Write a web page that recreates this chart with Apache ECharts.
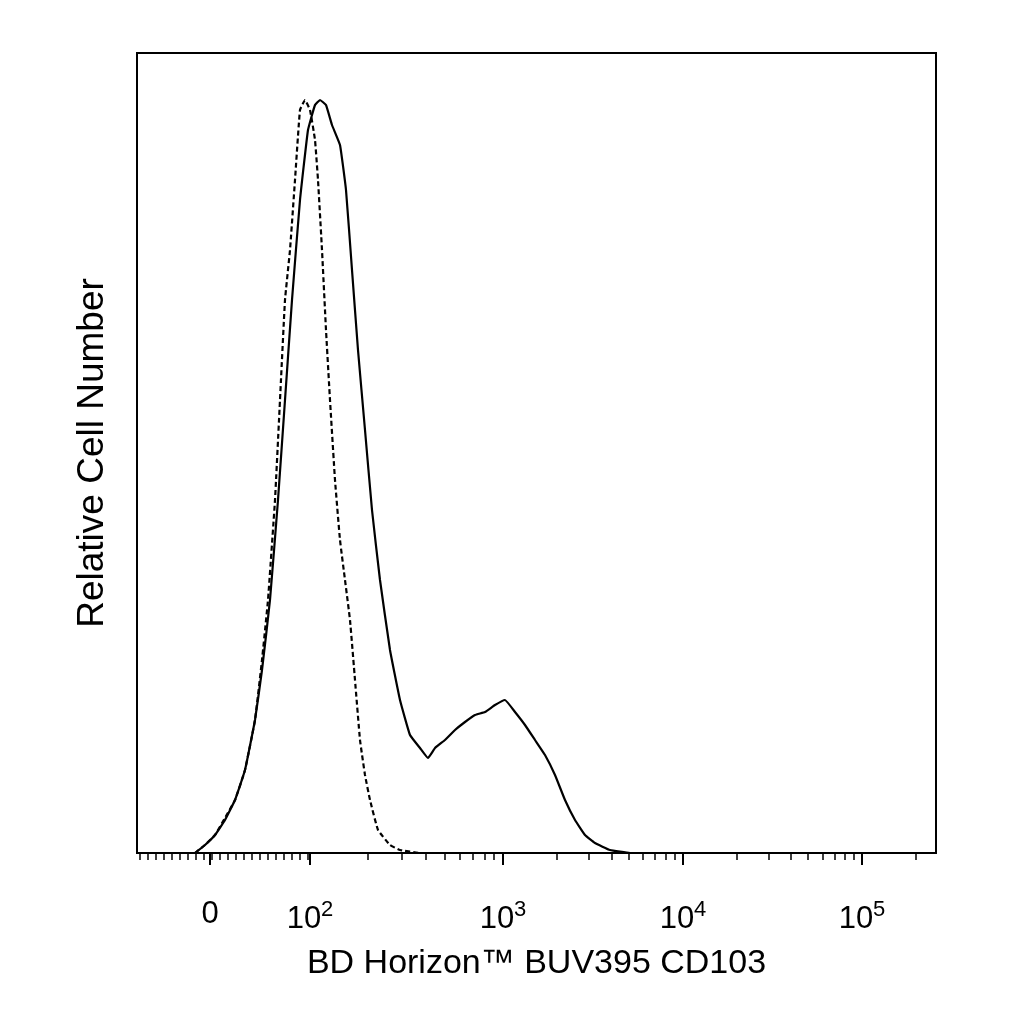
<!DOCTYPE html><html><head><meta charset="utf-8">
<script src="https://cdn.jsdelivr.net/npm/echarts@6/dist/echarts.min.js"></script>
<style>html,body{margin:0;background:#fff}#c{width:1024px;height:1024px}</style></head><body><div id="c"></div>
<script>
// x in display channels (0..799 across plot), y relative counts
const solidX=[58,68,78,88,98,108,118,125,133,141,148,155,163,171,178,183,189,195,203,209,215,221,228,235,243,253,263,273,283,291,298,308,318,328,338,348,358,368,378,388,398,408,418,428,438,448,458,473,493,799];
const solidY=[0,8,18,33,53,83,133,183,253,353,453,553,653,723,748,753,748,728,708,663,583,503,423,343,273,203,153,118,105,95,105,113,123,131,138,141,148,153,141,128,113,98,78,53,33,18,10,3,0,0];
const dashX=[58,68,78,88,98,108,118,125,131,138,143,148,153,158,163,168,173,178,181,185,189,193,198,203,208,213,218,223,228,233,241,253,263,283,799];
const dashY=[0,8,18,35,53,83,133,193,253,353,453,553,603,673,743,753,743,713,673,603,523,453,373,313,273,233,173,113,78,53,23,8,3,0,0];
const tickPos=[73,173,366,546,725];
const tickLabels=['0','10{s|2}','10{s|3}','10{s|4}','10{s|5}'];
// minor tick positions (axis decoration)
const minor=[];
for(let p=3;p<173;p+=8)minor.push(p);
for(let d=0;d<4;d++){const base=tickPos[d+1],span=[193,180,179,179][d];for(let k=2;k<10;k++){const q=base+Math.log10(k)*span;if(q<797)minor.push(q);}}
const chart=echarts.init(document.getElementById('c'));
const font='Liberation Sans';
chart.setOption({
 animation:false,
 grid:{left:137,right:88,top:53,bottom:171,show:true,borderColor:'#000',borderWidth:2,backgroundColor:'#fff'},
 xAxis:[{type:'value',min:0,max:799,position:'bottom',splitLine:{show:false},
   axisLine:{show:true,onZero:false,lineStyle:{color:'#000',width:2}},
   axisTick:{show:true,length:7,lineStyle:{color:'#000',width:1.5},customValues:minor},
   axisLabel:{show:false}},
  {type:'value',min:0,max:799,position:'bottom',splitLine:{show:false},
   axisLine:{show:false},
   axisTick:{show:true,length:12,lineStyle:{color:'#000',width:2},customValues:tickPos},
   axisLabel:{show:true,customValues:tickPos,margin:46,color:'#000',fontFamily:font,fontSize:31,
     formatter:(v)=>tickLabels[tickPos.indexOf(v)],rich:{s:{fontSize:22,verticalAlign:'top',padding:[0,0,18,0],fontFamily:font,color:'#000'}}},
   name:'BD Horizon™ BUV395 CD103',nameLocation:'middle',nameGap:94,nameTextStyle:{color:'#000',fontFamily:font,fontSize:34}}],
 yAxis:{type:'value',min:0,max:800,show:true,axisLine:{show:false},axisTick:{show:false},axisLabel:{show:false},splitLine:{show:false},
   name:'Relative Cell Number',nameLocation:'middle',nameGap:26,nameRotate:90,nameTextStyle:{color:'#000',fontFamily:font,fontSize:37}},
 series:[
  {type:'line',xAxisIndex:0,data:solidX.map((x,i)=>[x,solidY[i]]),symbol:'none',smooth:0.1,lineStyle:{color:'#000',width:2.2}},
  {type:'line',xAxisIndex:0,data:dashX.map((x,i)=>[x,dashY[i]]),symbol:'none',smooth:0.1,lineStyle:{color:'#000',width:2.2,type:[5,3]}}
 ]});
</script></body></html>
